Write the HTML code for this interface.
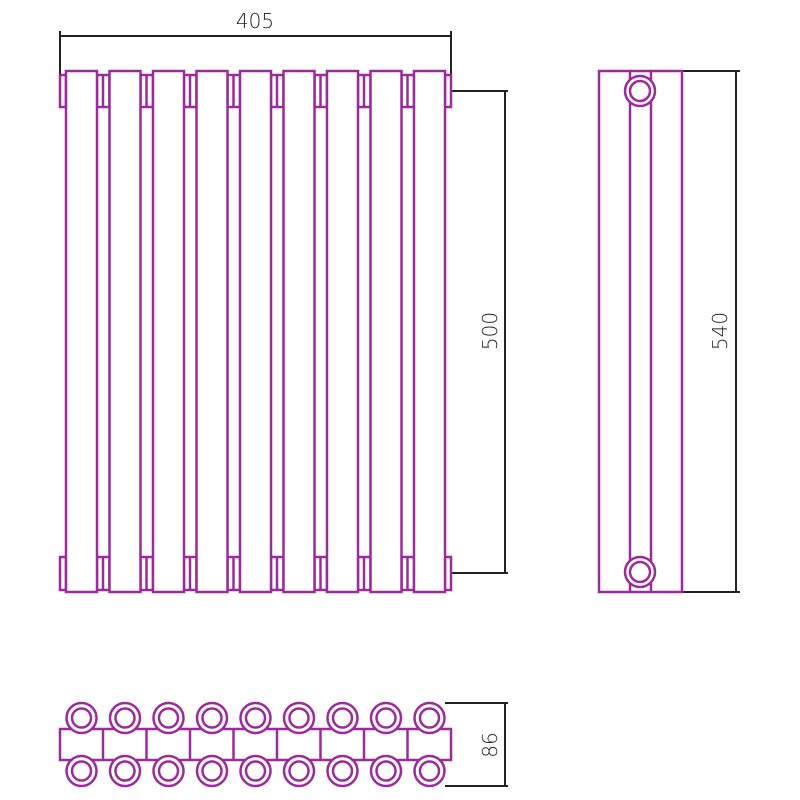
<!DOCTYPE html>
<html><head><meta charset="utf-8"><style>
html,body{margin:0;padding:0;background:#fff;}
svg{display:block}
text{font-family:"DejaVu Sans","Liberation Sans",sans-serif;font-size:20px;fill:#222;font-weight:300}
</style></head><body>
<svg id="s" width="800" height="800" viewBox="0 0 800 800" xmlns="http://www.w3.org/2000/svg">
<g fill="none" stroke="#222" stroke-width="2">
<line x1="60" y1="36" x2="451" y2="36"/>
<line x1="60" y1="31" x2="60" y2="75"/>
<line x1="451" y1="31" x2="451" y2="75"/>
<line x1="452" y1="91" x2="508" y2="91"/>
<line x1="452" y1="573" x2="508" y2="573"/>
<line x1="505" y1="91" x2="505" y2="573"/>
<line x1="682" y1="71" x2="740" y2="71"/>
<line x1="682" y1="592" x2="740" y2="592"/>
<line x1="736" y1="71" x2="736" y2="592"/>
<line x1="445" y1="703" x2="508" y2="703"/>
<line x1="445" y1="786" x2="508" y2="786"/>
<line x1="505" y1="703" x2="505" y2="786"/>
</g>
<text x="255" y="28" text-anchor="middle">405</text>
<text transform="translate(497,331) rotate(-90)" text-anchor="middle">500</text>
<text transform="translate(727,331) rotate(-90)" text-anchor="middle">540</text>
<text transform="translate(497,745) rotate(-90)" text-anchor="middle">86</text>
<g id="p" fill="#fff" stroke="#9b2a9b" stroke-width="2.5">
<rect x="599" y="71" width="31" height="521"/>
<rect x="651" y="71" width="31" height="521"/>
<line x1="630" y1="71" x2="651" y2="71"/>
<line x1="630" y1="592" x2="651" y2="592"/>
<circle cx="640" cy="91" r="15"/><circle cx="640" cy="91" r="10"/>
<circle cx="640" cy="572" r="15"/><circle cx="640" cy="572" r="10"/>
</g>
</svg>
<script>
var g=document.getElementById('p'),ns="http://www.w3.org/2000/svg",h='';
function R(x,y,w,hh){h+='<rect x="'+x+'" y="'+y+'" width="'+w+'" height="'+hh+'"/>';}
function L(a,b,c,d){h+='<line x1="'+a+'" y1="'+b+'" x2="'+c+'" y2="'+d+'"/>';}
function C(x,y,r){h+='<circle cx="'+x+'" cy="'+y+'" r="'+r+'"/>';}
// stubs
R(60,75,6,32);R(60,557,6,33);R(445,75,6,32);R(445,557,6,33);
for(var i=0;i<8;i++){var x=66+43.5*i+31;R(x,75,12.5,32);L(x+6,75,x+6,107);R(x,557,12.5,33);L(x+6,557,x+6,590);}
for(var i=0;i<9;i++){var x=66+43.5*i;R(x,71,31,521);}
// bottom view
R(60,729,391,31);
for(var i=0;i<8;i++){var x=103+43.5*i;L(x,729,x,760);}
for(var i=0;i<9;i++){var cx=81.5+43.5*i;C(cx,718,15);C(cx,718,9.5);C(cx,771,15);C(cx,771,9.5);}
g.insertAdjacentHTML('afterbegin',h);
</script>
</body></html>
